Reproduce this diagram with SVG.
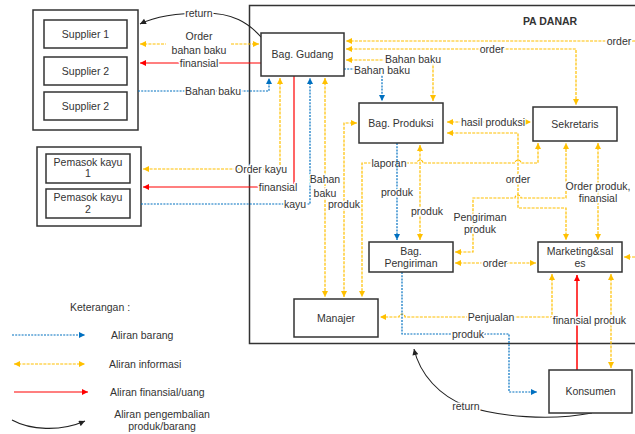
<svg xmlns="http://www.w3.org/2000/svg" width="635" height="434" viewBox="0 0 635 434">
<style>
text{font-family:"Liberation Sans",Arial,sans-serif;font-size:10.5px;fill:#333;text-anchor:middle}
.lg{text-anchor:start}
.lb{stroke:#fff;stroke-width:3;paint-order:stroke;stroke-linejoin:round}
.box{fill:#fff;stroke:#333;stroke-width:1.5}
.y{fill:none;stroke:#FFC000;stroke-width:1.2;stroke-dasharray:3 1.2}
.b{fill:none;stroke:#0070C0;stroke-width:1.2;stroke-dasharray:2 1.2}
.r{fill:none;stroke:#FF0000;stroke-width:1.2}
.k{fill:none;stroke:#222;stroke-width:1.1}
</style>
<defs>
<marker id="ay" viewBox="0 0 10 10" refX="10" refY="5" markerWidth="7" markerHeight="6" markerUnits="userSpaceOnUse" orient="auto-start-reverse"><path d="M0,0L10,5L0,10z" fill="#FFC000"/></marker>
<marker id="ab" viewBox="0 0 10 10" refX="10" refY="5" markerWidth="7" markerHeight="6" markerUnits="userSpaceOnUse" orient="auto-start-reverse"><path d="M0,0L10,5L0,10z" fill="#0070C0"/></marker>
<marker id="ar" viewBox="0 0 10 10" refX="10" refY="5" markerWidth="7" markerHeight="6" markerUnits="userSpaceOnUse" orient="auto-start-reverse"><path d="M0,0L10,5L0,10z" fill="#FF0000"/></marker>
<marker id="ak" viewBox="0 0 10 10" refX="10" refY="5" markerWidth="7" markerHeight="6" markerUnits="userSpaceOnUse" orient="auto-start-reverse"><path d="M0,0L10,5L0,10z" fill="#222"/></marker>
</defs>

<g id="pa-danar">
<rect x="249.5" y="5.5" width="420" height="338" fill="none" stroke="#333" stroke-width="1.5"/>
<text x="550" y="25" style="font-weight:bold">PA DANAR</text>
</g>

<g id="supplier-group">
<rect class="box" x="33" y="10" width="105" height="120"/>
</g>
<g id="supplier-1"><rect class="box" x="44" y="20" width="83" height="28"/><text x="85.5" y="38">Supplier 1</text></g>
<g id="supplier-2a"><rect class="box" x="44" y="57" width="83" height="28"/><text x="85.5" y="75">Supplier 2</text></g>
<g id="supplier-2b"><rect class="box" x="44" y="92" width="83" height="28"/><text x="85.5" y="110">Supplier 2</text></g>

<g id="pemasok-group"><rect class="box" x="37" y="147" width="104" height="79"/></g>
<g id="pemasok-1"><rect class="box" x="46" y="154" width="84" height="29"/><text x="88" y="166">Pemasok kayu</text><text x="88" y="177">1</text></g>
<g id="pemasok-2"><rect class="box" x="46" y="189" width="84" height="29"/><text x="88" y="201">Pemasok kayu</text><text x="88" y="213">2</text></g>

<g id="connectors">
<path class="k" d="M262,38 C248,22 232,13 205,13 C180,13 156,16 140,24" marker-end="url(#ak)"/>
<text class="lb" x="199" y="17">return</text>
<path class="y" d="M140,44 H166" marker-start="url(#ay)"/>
<path class="y" d="M231,44 H259" marker-end="url(#ay)"/>
<text x="199" y="40">Order</text>
<text x="199" y="54">bahan baku</text>
<path class="r" d="M261,63 H140" marker-end="url(#ar)"/>
<text class="lb" x="199" y="67">finansial</text>
<path class="b" d="M138,91 H269 V78" marker-end="url(#ab)"/>
<text class="lb" x="213" y="95">Bahan baku</text>
<path class="y" d="M280,78 V169 H143" marker-start="url(#ay)" marker-end="url(#ay)"/>
<text class="lb" x="261" y="173">Order kayu</text>
<path class="r" d="M294,76 V187 H143" marker-end="url(#ar)"/>
<text class="lb" x="278" y="191">finansial</text>
<path class="b" d="M141,204 H310 V78" marker-end="url(#ab)"/>
<text class="lb" x="295" y="208">kayu</text>
<path class="y" d="M325,78 V297" marker-start="url(#ay)" marker-end="url(#ay)"/>
<text class="lb" x="325" y="183">Bahan</text>
<text class="lb" x="325" y="197">baku</text>
<path class="y" d="M357,123 H344 V297" marker-start="url(#ay)" marker-end="url(#ay)"/>
<text class="lb" x="344" y="208">produk</text>
<path class="y" d="M538,143 V163 H521 A3,3 0 0 0 515,163 H423 A3,3 0 0 0 417,163 H362 V297" marker-start="url(#ay)" marker-end="url(#ay)"/>
<text class="lb" x="389" y="167">laporan</text>
<path class="y" d="M635,41 H346" marker-end="url(#ay)"/>
<text class="lb" x="619" y="45">order</text>
<path class="y" d="M346,49 H576 V105" marker-start="url(#ay)" marker-end="url(#ay)"/>
<text class="lb" x="492" y="53">order</text>
<path class="y" d="M346,60 H433 V101" marker-start="url(#ay)" marker-end="url(#ay)"/>
<text class="lb" x="413" y="63">Bahan baku</text>
<path class="b" d="M344,69 H382 V101" marker-end="url(#ab)"/>
<text class="lb" x="382" y="74">Bahan baku</text>
<path class="y" d="M447,122 H531" marker-start="url(#ay)" marker-end="url(#ay)"/>
<text class="lb" x="493" y="126">hasil produksi</text>
<path class="y" d="M447,133 H518 V208 H566 V240" marker-start="url(#ay)" marker-end="url(#ay)"/>
<text class="lb" x="518" y="183">order</text>
<path class="y" d="M455,252 H473 V198 H515 A3,3 0 0 1 521,198 H566 V143" marker-start="url(#ay)" marker-end="url(#ay)"/>
<text class="lb" x="480" y="221">Pengiriman</text>
<text class="lb" x="480" y="233">produk</text>
<path class="y" d="M598,143 V240" marker-start="url(#ay)" marker-end="url(#ay)"/>
<text class="lb" x="598" y="190">Order produk,</text>
<text class="lb" x="598" y="202">finansial</text>
<path class="b" d="M397,143 V240" marker-end="url(#ab)"/>
<text class="lb" x="397" y="196">produk</text>
<path class="y" d="M420,145 V240" marker-start="url(#ay)" marker-end="url(#ay)"/>
<text class="lb" x="427" y="215">produk</text>
<path class="y" d="M455,263 H536" marker-start="url(#ay)" marker-end="url(#ay)"/>
<text class="lb" x="495" y="267">order</text>
<path class="y" d="M635,257 H624" marker-end="url(#ay)"/>
<path class="y" d="M552,274 V317 H405 A3,3 0 0 0 399,317 H380" marker-start="url(#ay)" marker-end="url(#ay)"/>
<text class="lb" x="491" y="321">Penjualan</text>
<path class="b" d="M402,272 V334 H509 V392 H537" marker-end="url(#ab)"/>
<text class="lb" x="468" y="338">produk</text>
<path d="M577,370 V275" fill="none" stroke="#FF0000" stroke-width="2" stroke-opacity="0.75" marker-end="url(#ar)"/>
<text class="lb" x="572" y="324">finansial</text>
<path class="y" d="M611,274 V368" marker-start="url(#ay)" marker-end="url(#ay)"/>
<text class="lb" x="610" y="324">produk</text>
<path class="k" d="M592,413 C550,421 500,417 466,406 C440,396 420,375 414,349" marker-end="url(#ak)"/>
<text class="lb" x="466" y="410">return</text>
</g>

<g id="bag-gudang"><rect class="box" x="261" y="33" width="83" height="43"/><text x="302.5" y="58">Bag. Gudang</text></g>
<g id="bag-produksi"><rect class="box" x="359" y="103" width="84" height="40"/><text x="401" y="127">Bag. Produksi</text></g>
<g id="sekretaris"><rect class="box" x="533" y="107" width="84" height="34"/><text x="575" y="128">Sekretaris</text></g>
<g id="bag-pengiriman"><rect class="box" x="369" y="242" width="84" height="30"/><text x="411" y="255">Bag.</text><text x="411" y="267">Pengiriman</text></g>
<g id="marketing"><rect class="box" x="538" y="242" width="84" height="30"/><text x="580" y="255">Marketing&amp;sal</text><text x="580" y="267">es</text></g>
<g id="manajer"><rect class="box" x="294" y="299" width="84" height="38"/><text x="336" y="322">Manajer</text></g>
<g id="konsumen"><rect class="box" x="549" y="370" width="83" height="43"/><text x="590.5" y="395">Konsumen</text></g>

<g id="legend">
<text class="lg" x="70" y="311">Keterangan :</text>
<path class="b" d="M12,335 H85" marker-end="url(#ab)"/>
<text class="lg" x="111" y="339">Aliran barang</text>
<path class="y" d="M14,364 H85" marker-start="url(#ay)" marker-end="url(#ay)"/>
<text class="lg" x="109" y="368">Aliran informasi</text>
<path class="r" d="M14,392 H88" marker-end="url(#ar)"/>
<text class="lg" x="110" y="396">Aliran finansial/uang</text>
<path class="k" d="M12,420 C30,430 60,432 85,421" marker-end="url(#ak)"/>
<text x="162" y="418">Aliran pengembalian</text>
<text x="162" y="430">produk/barang</text>
</g>
</svg>
